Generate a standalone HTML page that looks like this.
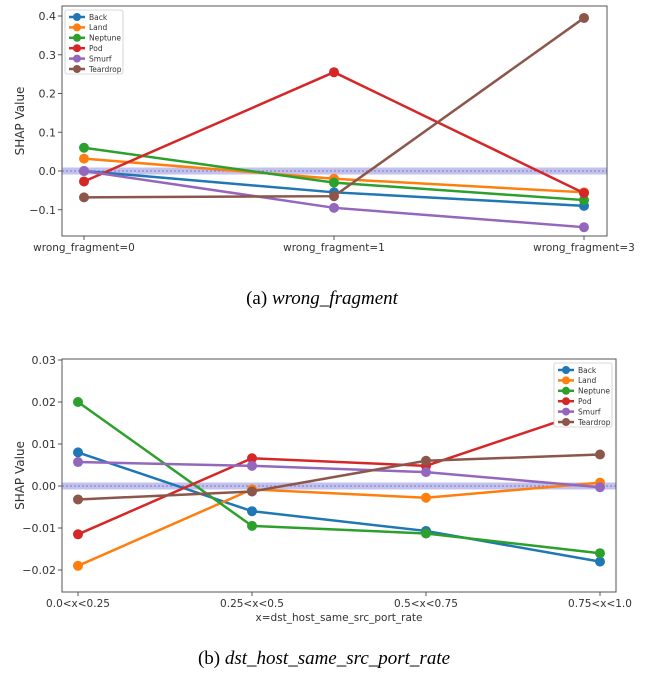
<!DOCTYPE html>
<html><head><meta charset="utf-8">
<style>
body{margin:0;background:#fff;}
svg{display:block;font-family:"DejaVu Sans","Liberation Sans",sans-serif;}
.cap{font-family:"Liberation Serif",serif;font-size:19px;}
</style></head>
<body>
<svg id="chart" width="658" height="680" viewBox="0 0 658 680">
<text class="cap" x="322" y="304" text-anchor="middle">(a) <tspan font-style="italic">wrong_fragment</tspan></text>
<text class="cap" x="324" y="664" text-anchor="middle">(b) <tspan font-style="italic">dst_host_same_src_port_rate</tspan></text>
</svg>
<script>
const series = ["Back","Land","Neptune","Pod","Smurf","Teardrop"];
const colors = ["#1f77b4","#ff7f0e","#2ca02c","#d62728","#9467bd","#8c564b"];
const catsA = ["wrong_fragment=0","wrong_fragment=1","wrong_fragment=3"];
const backA = [0.0,-0.055,-0.09];
const landA = [0.032,-0.02,-0.055];
const neptuneA = [0.06,-0.03,-0.075];
const podA = [-0.027,0.255,-0.057];
const smurfA = [0.0,-0.095,-0.145];
const teardropA = [-0.068,-0.065,0.395];
const ticksA = [-0.1,0.0,0.1,0.2,0.3,0.4];
const catsB = ["0.0<x<0.25","0.25<x<0.5","0.5<x<0.75","0.75<x<1.0"];
const backB = [0.008,-0.006,-0.0107,-0.018];
const landB = [-0.019,-0.0008,-0.0028,0.0008];
const neptuneB = [0.020,-0.0095,-0.0113,-0.016];
const podB = [-0.0115,0.0066,0.0048,0.0187];
const smurfB = [0.0057,0.0048,0.0033,-0.0003];
const teardropB = [-0.0032,-0.0013,0.006,0.0075];
const ticksB = [-0.02,-0.01,0.0,0.01,0.02,0.03];

const svg=document.getElementById('chart');
const NS='http://www.w3.org/2000/svg';
function mk(tag,attrs,parent){const e=document.createElementNS(NS,tag);for(const k in attrs)e.setAttribute(k,attrs[k]);(parent||svg).appendChild(e);return e;}

function draw(cfg){
  const g=mk('g',{});
  
  
  const y=v=>cfg.y0+(v-cfg.v0)*(cfg.y1-cfg.y0)/(cfg.v1-cfg.v0);
  const x=i=>cfg.xs+i*(cfg.xe-cfg.xs)/(cfg.cats.length-1);
  // zero band
  const band=mk('rect',{x:cfg.L,y:y(0)-3.5,width:cfg.R-cfg.L,height:7,fill:'#9a9ae0',opacity:0.6},g);
  
  
  mk('line',{x1:cfg.L,x2:cfg.R,y1:y(0),y2:y(0),stroke:'#6060c0','stroke-dasharray':'2,2','stroke-width':0.7},g);
  const frame=mk('rect',{x:cfg.L,y:cfg.T,width:cfg.R-cfg.L,height:cfg.B-cfg.T,fill:'none',stroke:'#555','stroke-width':1},g);
  
  
  cfg.ticks.forEach(t=>{
    mk('line',{x1:cfg.L-4,x2:cfg.L,y1:y(t),y2:y(t),stroke:'#555'},g);
    const tx=mk('text',{x:cfg.L-6,y:y(t)+4,'text-anchor':'end','font-size':11,fill:'#333'},g);
    tx.textContent=(t<0?'\u2212':'')+Math.abs(t).toFixed(cfg.dec);
    
    
  });
  cfg.cats.forEach((c,i)=>{
    mk('line',{x1:x(i),x2:x(i),y1:cfg.B,y2:cfg.B+4,stroke:'#555'},g);
    const tx=mk('text',{x:x(i),y:cfg.B+15,'text-anchor':'middle','font-size':10.5,fill:'#333'},g);
    tx.textContent=c;
    
    
  });
  const yl=mk('text',{x:0,y:0,transform:`translate(${cfg.L-38},${(cfg.T+cfg.B)/2}) rotate(-90)`,'text-anchor':'middle','font-size':12,fill:'#333'},g);
  yl.textContent='SHAP Value';
  
  
  if(cfg.xlabel){
    const xl=mk('text',{x:(cfg.L+cfg.R)/2,y:cfg.B+29,'text-anchor':'middle','font-size':10.5,fill:'#333'},g);
    xl.textContent=cfg.xlabel;
    
    
  }
  cfg.data.forEach((arr,s)=>{
    const pl=mk('polyline',{points:arr.map((v,i)=>x(i)+','+y(v)).join(' '),fill:'none',stroke:colors[s],'stroke-width':2.5},g);
    
    
    arr.forEach((v,i)=>{
      const c=mk('circle',{cx:x(i),cy:y(v),r:5,fill:colors[s]},g);
      
      
    });
  });
  const lg=mk('g',{},g);
  
  
  mk('rect',{x:cfg.lx,y:cfg.ly,width:58,height:64,fill:'#fff',stroke:'#ccc','stroke-width':0.8,rx:2},lg);
  series.forEach((n,s)=>{
    const yy=cfg.ly+7+s*10.4;
    mk('line',{x1:cfg.lx+4,x2:cfg.lx+20,y1:yy,y2:yy,stroke:colors[s],'stroke-width':2.5},lg);
    mk('circle',{cx:cfg.lx+12,cy:yy,r:4,fill:colors[s]},lg);
    const t=mk('text',{x:cfg.lx+24,y:yy+2.8,'font-size':7.5,fill:'#333'},lg);
    t.textContent=n;
    
    
  });
}
draw({name:'chart-a',L:62,R:607,T:6,B:236,xs:84,xe:584,y0:171,y1:16,v0:0,v1:0.4,ticks:ticksA,dec:1,cats:catsA,
  data:[backA,landA,neptuneA,podA,smurfA,teardropA],lx:65,ly:10});
draw({name:'chart-b',L:62,R:616,T:359,B:592,xs:78,xe:600,y0:486,y1:360,v0:0,v1:0.03,ticks:ticksB,dec:2,cats:catsB,
  data:[backB,landB,neptuneB,podB,smurfB,teardropB],lx:554,ly:363,xlabel:'x=dst_host_same_src_port_rate'});
</script>
</body></html>
